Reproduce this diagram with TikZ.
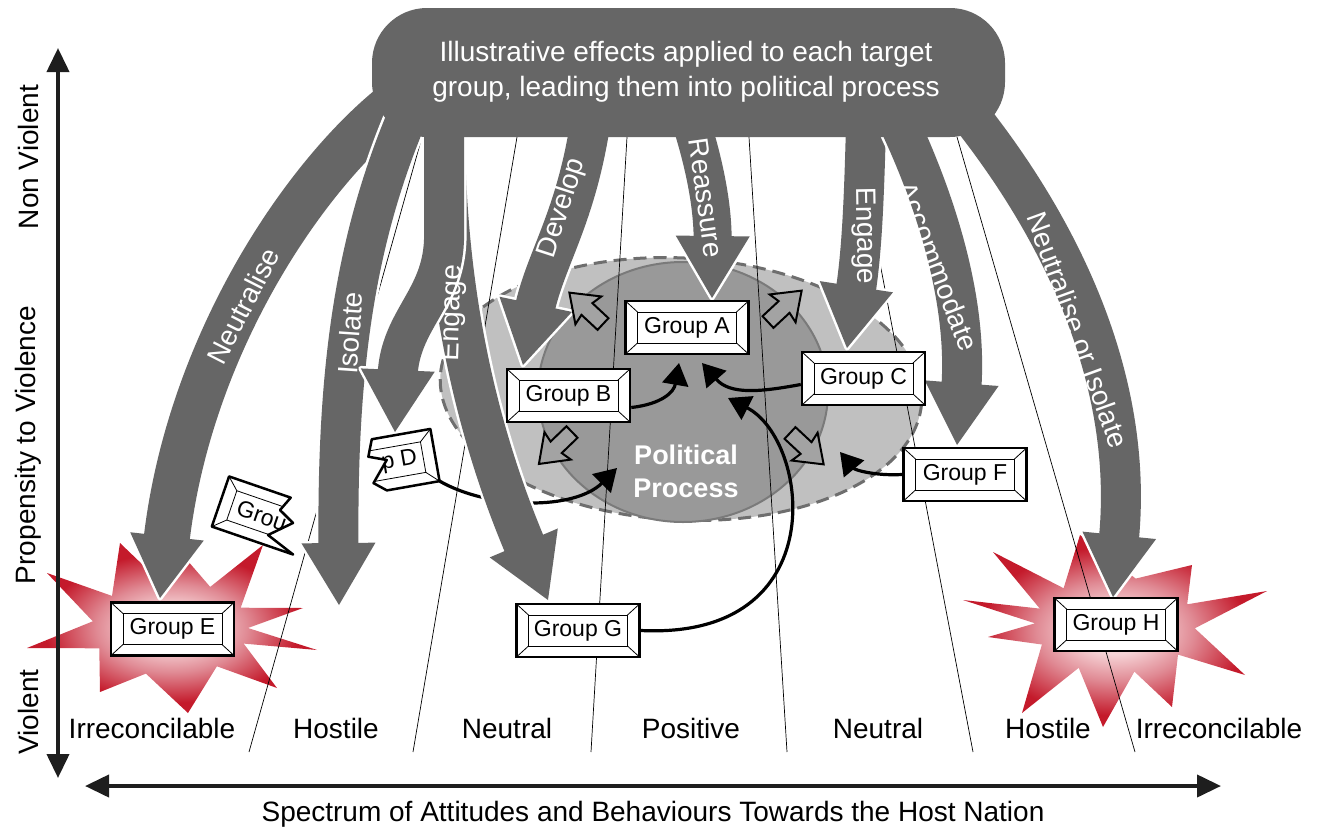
\documentclass[tikz,border=0pt]{standalone}
\usepackage{fontspec}
\setmainfont{Liberation Sans}
\usetikzlibrary{arrows.meta,calc,shapes.geometric}

\definecolor{arrgray}{HTML}{666666}
\definecolor{ppouter}{HTML}{C0C0C0}
\definecolor{ppinner}{HTML}{999999}
\definecolor{ppedge}{HTML}{6E6E6E}
\definecolor{ppedgein}{HTML}{7A7A7A}
\definecolor{blockfill}{HTML}{A3A3A3}
\definecolor{axiscol}{HTML}{1E1E1E}
\definecolor{starin}{HTML}{F6D3D6}
\definecolor{starmid}{HTML}{E08A94}
\definecolor{starout}{HTML}{C41A2B}

% the path's bounding box is mapped onto the central 50bp square
\pgfdeclareradialshading{starshade}{\pgfpoint{0bp}{0bp}}{%
  color(0bp)=(starin); color(6bp)=(starin); color(13bp)=(starmid);
  color(22bp)=(starout); color(25bp)=(starout); color(50bp)=(starout)}

\tikzset{
  lab/.style={font=\fontsize{28}{34}\selectfont, text=black, inner sep=0pt},
  arrlab/.style={font=\fontsize{28}{34}\selectfont, text=white, inner sep=0pt},
  divider/.style={draw=black, line width=0.7pt},
  conn/.style={draw=black, line width=3.2pt, -{Triangle[length=22pt,width=26pt]}},
  axis/.style={draw=axiscol, line width=4pt,
    {Triangle[length=24pt,width=22pt]}-{Triangle[length=24pt,width=22pt]}},
  groupbox/.style={draw=black, line width=2.5pt, fill=white,
    minimum width=123pt, minimum height=53pt, inner sep=0pt,
    font=\fontsize{23}{28}\selectfont,
    path picture={
      \draw[line width=0.8pt]
        ([shift={(12pt,-11pt)}]path picture bounding box.north west) rectangle
        ([shift={(-12pt,11pt)}]path picture bounding box.south east);
      \draw[line width=0.8pt]
        (path picture bounding box.north west) -- ++(12pt,-11pt)
        (path picture bounding box.north east) -- ++(-12pt,-11pt)
        (path picture bounding box.south west) -- ++(12pt,11pt)
        (path picture bounding box.south east) -- ++(-12pt,11pt);
    }},
  pics/outarrow/.style={code={
    \draw[line width=2pt, fill=blockfill, line join=miter]
      (0,-8) -- (22,-8) -- (20,-19) -- (46,0) -- (20,19) -- (22,8) -- (0,8) -- cycle;}},
}

% thick curved effect arrow: start path, two control points, tip, shaft width
\newcommand\effectarrow[5]{%
  \path #4 coordinate (tipP) ($#4!62pt!#3$) coordinate (backP);
  \path ($(backP)!37pt!90:(tipP)$) coordinate (cornA)
        ($(backP)!37pt!-90:(tipP)$) coordinate (cornB);
  \draw[white, line width={(#5+5)*1pt}, shorten >=56pt] #1 .. controls #2 and #3 .. #4;
  \filldraw[white, line width=5pt, line join=round] (cornA) -- (tipP) -- (cornB) -- cycle;
  \draw[arrgray, line width={#5*1pt}, shorten >=56pt] #1 .. controls #2 and #3 .. #4;
  \fill[arrgray] (cornA) -- (tipP) -- (cornB) -- cycle;
}

\begin{document}
\begin{tikzpicture}[x=1pt,y=-1pt]
\useasboundingbox (0,0) rectangle (1322,830);

% ---- starbursts behind the violent groups
\shade[shading=starshade] (27,648) -- (92.8,621.3) -- (47,573) -- (112,595.9) -- (120,543)
  -- (159.1,580.5) -- (187,560) -- (210.2,586.9) -- (263,545) -- (240.7,607.7) -- (303,608)
  -- (248,628) -- (317,650) -- (243.7,643.6) -- (277,688) -- (216.9,666.3) -- (188,713)
  -- (145.9,673.6) -- (100,692) -- (99.3,648.3) -- cycle;
\shade[shading=starshade] (988,637) -- (1035,623.3) -- (963,600) -- (1039.8,608.6) -- (993,552)
  -- (1063.6,588.2) -- (1080,535) -- (1135.7,578.6) -- (1192,565) -- (1187.2,604.3)
  -- (1267,591) -- (1194.8,628.3) -- (1245,675) -- (1178,654.6) -- (1172,707)
  -- (1134.4,671.6) -- (1103,727) -- (1078.7,667.8) -- (1022,713) -- (1041.9,644.5) -- cycle;

% ---- political process
\node[ellipse, draw=ppedge, fill=ppouter, line width=3pt, dash pattern=on 13pt off 7pt,
      minimum width=482pt, minimum height=262pt, inner sep=0pt, rotate=-3] (ppout) at (681,389) {};
\node[ellipse, draw=ppedgein, fill=ppinner, line width=2pt,
      minimum width=290pt, minimum height=260pt, inner sep=0pt] (ppin) at (683,392) {};

% ---- spectrum dividers
\coordinate (d1t) at (422,137); \coordinate (d1b) at (249,752);
\coordinate (d2t) at (517,137); \coordinate (d2b) at (413,752);
\coordinate (d3t) at (627,137); \coordinate (d3b) at (591,752);
\coordinate (d4t) at (749,137); \coordinate (d4b) at (787,752);
\coordinate (d5t) at (856,137); \coordinate (d5b) at (973,752);
\coordinate (d6t) at (957,137); \coordinate (d6b) at (1135,752);
\foreach \i in {1,...,6} \draw[divider] (d\i t) -- (d\i b);

% ---- Group D feeds the process (runs beneath the Engage arrow)
\coordinate (dcorner) at (439.6,481.1);
\coordinate (ppD) at (617,468);
\draw[conn] (dcorner) .. controls (490,510) and (575,510) .. (ppD);

% ---- effect arrows
\effectarrow{(393,105)}{(300,180)}{(188,350)}{(160,598)}{46}
\effectarrow{(405,122)}{(352,250)}{(337,380)}{(339,605)}{40}
\effectarrow{(444,125)}{(444,300)}{(480,440)}{(548,600)}{42}
\effectarrow{(444,125) -- (444,240)}{(442,300)}{(400,320)}{(395,432)}{40}
\effectarrow{(590,125)}{(575,220)}{(545,260)}{(523,365)}{40}
\effectarrow{(692,125)}{(706,170)}{(713,210)}{(712,298)}{38}
\effectarrow{(866,125)}{(864,200)}{(862,250)}{(847,348)}{40}
\effectarrow{(900,125)}{(935,200)}{(968,300)}{(957,445)}{40}
\effectarrow{(972,118)}{(1060,230)}{(1135,380)}{(1113,597)}{40}

% ---- top banner
\node[fill=arrgray, rounded corners=55pt, minimum width=633pt, minimum height=129pt,
      inner sep=0pt] (effects) at (688.5,72.5) {};
\node[font=\fontsize{28}{35}\selectfont, text=white, align=center, inner sep=0pt]
  (effectstext) at (686,72) {Illustrative effects applied to each target\\group, leading them into political process};

% ---- arrow labels
\node[arrlab, rotate=63]  (lNeut) at (243,306) {Neutralise};
\node[arrlab, rotate=86]  (lIso)  at (350,333) {Isolate};
\node[arrlab, rotate=88]  (lEngL) at (453,313) {Engage};
\node[arrlab, rotate=72]  (lDev)  at (562,208) {Develop};
\node[arrlab, rotate=-82] (lReas) at (706,198) {Reassure};
\node[arrlab, rotate=-89] (lEngR) at (864,236) {Engage};
\node[arrlab, rotate=-69] (lAcc)  at (938,266) {Accommodate};
\node[arrlab, rotate=-70] (lNoI)  at (1078,330) {Neutralise or Isolate};

% ---- outward arrows from the process
\pic[rotate=137] at (603,324) {outarrow};
\pic[rotate=43]  at (768,322) {outarrow};
\pic[rotate=224] at (572,432) {outarrow};
\pic[rotate=-43] at (790,433) {outarrow};

\node[font=\bfseries\fontsize{27}{33}\selectfont, text=white, align=center, inner sep=0pt]
  (pptext) at (686,471) {Political\\Process};

% ---- groups
\node[groupbox] (gA) at (687,327.5) {Group A};
\node[groupbox] (gB) at (568.5,395.5) {Group B};
\node[groupbox] (gC) at (863.5,378.5) {Group C};
\node[groupbox] (gF) at (965,474.5) {Group F};
\node[groupbox] (gG) at (578,630.5) {Group G};
\node[groupbox] (gE) at (172.5,629) {Group E};
\node[groupbox] (gH) at (1116,624.5) {Group H};

% ---- torn group D
\begin{scope}[shift={(374.4,465.7)}, rotate=10]
  \fill[white] (61.5,-26.5) -- (2,-26.5) -- (-4.4,-9.9) -- (13.1,-3.5) -- (-3.9,17)
    -- (8,26.5) -- (61.5,26.5) -- cycle;
  \begin{scope}
    \clip (61.5,-26.5) -- (2,-26.5) -- (-4.4,-9.9) -- (13.1,-3.5) -- (-3.9,17)
      -- (8,26.5) -- (61.5,26.5) -- cycle;
    \draw[line width=0.8pt] (-49.5,-15.5) rectangle (49.5,15.5);
    \draw[line width=0.8pt] (61.5,-26.5) -- (49.5,-15.5) (61.5,26.5) -- (49.5,15.5);
    \node[anchor=east, transform shape, inner sep=0pt, font=\fontsize{23}{28}\selectfont]
      (gDtext) at (43.5,0) {p D};
  \end{scope}
  \draw[line width=2.5pt, line join=round] (61.5,-26.5) -- (2,-26.5) -- (-4.4,-9.9)
    -- (13.1,-3.5) -- (-3.9,17) -- (8,26.5) -- (61.5,26.5) -- cycle;
\end{scope}

% ---- torn fragment near group E
\begin{scope}[shift={(278.6,521.5)}, rotate=-19]
  \fill[white] (-61.5,-26.5) -- (3.7,-26.5) -- (-2.4,-11.3) -- (14.1,-3.3) -- (-5.6,16.2)
    -- (24.5,26.5) -- (-61.5,26.5) -- cycle;
  \begin{scope}
    \clip (-61.5,-26.5) -- (3.7,-26.5) -- (-2.4,-11.3) -- (14.1,-3.3) -- (-5.6,16.2)
      -- (24.5,26.5) -- (-61.5,26.5) -- cycle;
    \draw[line width=0.8pt] (-49.5,-15.5) rectangle (49.5,15.5);
    \draw[line width=0.8pt] (-61.5,-26.5) -- (-49.5,-15.5) (-61.5,26.5) -- (-49.5,15.5);
    \node[anchor=west, transform shape, inner sep=0pt, font=\fontsize{23}{28}\selectfont]
      (gXtext) at (-43.5,0) {Grou};
  \end{scope}
  \draw[line width=2.5pt, line join=round] (-61.5,-26.5) -- (3.7,-26.5) -- (-2.4,-11.3)
    -- (14.1,-3.3) -- (-5.6,16.2) -- (24.5,26.5) -- (-61.5,26.5) -- cycle;
\end{scope}

% ---- groups moving into the process
\coordinate (ppB) at (679,363);
\coordinate (ppC) at (702,363);
\coordinate (ppG) at (728,398);
\coordinate (ppF) at (840,452);
\draw[conn] ([yshift=-12pt]gB.east) .. controls (662,404) and (674,392) .. (ppB);
\draw[conn] ([yshift=-6pt]gC.west) .. controls (760,392) and (730,395) .. (ppC);
\draw[conn] (gG.east) .. controls (835,640) and (810,440) .. (ppG);
\draw[conn] (gF.west) .. controls (875,476) and (855,470) .. (ppF);

% ---- axes
\coordinate (vtop) at (58,48); \coordinate (vbot) at (58,778);
\coordinate (hleft) at (85,786); \coordinate (hright) at (1221,786);
\draw[axis] (vtop) -- (vbot);
\draw[axis] (hleft) -- (hright);

\node[lab, rotate=90] (yNon)  at (28,157) {Non Violent};
\node[lab, rotate=90] (yProp) at (28,445) {Propensity to Violence};
\node[lab, rotate=90] (yViol) at (28,712) {Violent};

\node[lab] (c1) at (152,728) {Irreconcilable};
\node[lab] (c2) at (336,728) {Hostile};
\node[lab] (c3) at (507,728) {Neutral};
\node[lab] (c4) at (691,728) {Positive};
\node[lab] (c5) at (878,728) {Neutral};
\node[lab] (c6) at (1048,728) {Hostile};
\node[lab] (c7) at (1219,728) {Irreconcilable};

\node[lab] (xlab) at (653,814) {Spectrum of Attitudes and Behaviours Towards the Host Nation};
\end{tikzpicture}
\end{document}
